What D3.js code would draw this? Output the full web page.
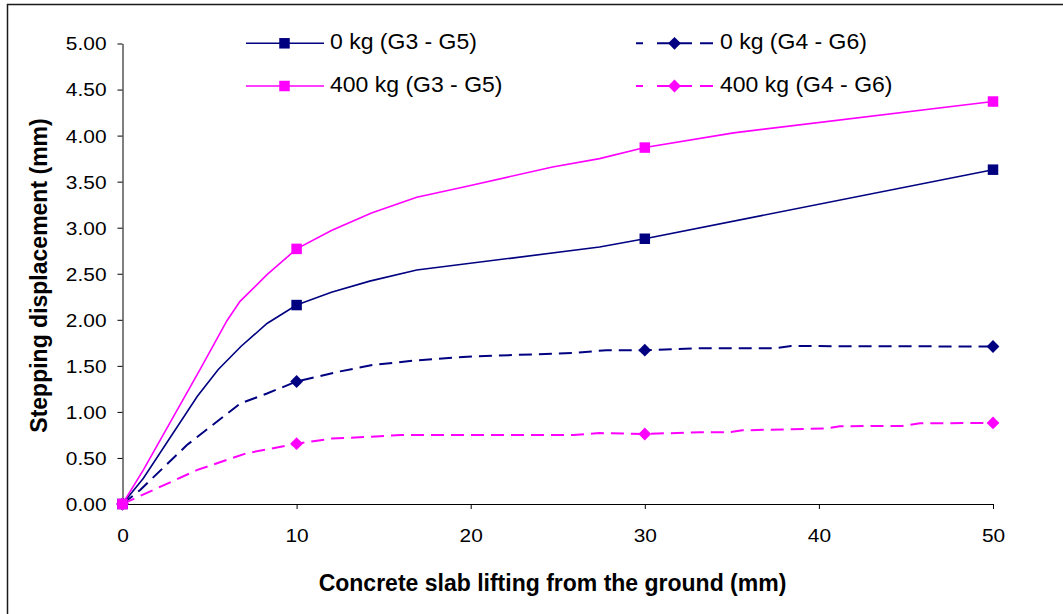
<!DOCTYPE html>
<html>
<head>
<meta charset="utf-8">
<script src="https://cdn.jsdelivr.net/npm/d3@7"></script>
<style>
  body { margin: 0; background: #fff; }
  text { font-family: "Liberation Sans", Arial, sans-serif; fill: #000; }
</style>
</head>
<body>
<script>
// series values: [lifting (mm), stepping displacement (mm)]
const load0_G3G5 = [[0,0],[1.2,0.28],[4.3,1.17],[5.5,1.46],[6.8,1.71],[8.3,1.96],[10,2.16],[12,2.30],[14.2,2.42],[16.9,2.54],[27.4,2.79],[30,2.88],[50,3.63]];
const load0_G4G6 = [[0,0],[1.0,0.15],[3.7,0.64],[6.75,1.09],[8.3,1.20],[10,1.33],[12.5,1.44],[14.4,1.51],[16.9,1.56],[19.8,1.60],[25.9,1.64],[27.8,1.67],[30,1.67],[33,1.69],[37.4,1.69],[38.4,1.715],[50,1.71]];
const load400_G3G5 = [[0,0],[1.2,0.37],[4.45,1.46],[6.0,1.99],[6.75,2.20],[8.3,2.49],[10,2.77],[12,2.97],[14.3,3.16],[16.9,3.33],[19.8,3.45],[24.7,3.66],[27.4,3.75],[30,3.87],[35.1,4.03],[50,4.37]];
const load400_G4G6 = [[0,0],[4.3,0.37],[7.1,0.55],[10,0.655],[12,0.71],[14.3,0.73],[16,0.75],[25.9,0.75],[27.4,0.77],[30,0.76],[33.2,0.78],[34.9,0.78],[35.6,0.80],[40.4,0.82],[41.2,0.845],[44.8,0.847],[45.8,0.876],[50,0.88]];

const seriesNames = ["0 kg (G3 - G5)", "0 kg (G4 - G6)", "400 kg (G3 - G5)", "400 kg (G4 - G6)"];
const seriesValues = [load0_G3G5, load0_G4G6, load400_G3G5, load400_G4G6];
const markerAt = [0, 10, 30, 50];   // points that carry a marker
const xTicks = [0, 10, 20, 30, 40, 50];
const yTicks = [0, 0.5, 1, 1.5, 2, 2.5, 3, 3.5, 4, 4.5, 5];

// styles per series
const colors = ["#000080", "#000080", "#ff00ff", "#ff00ff"];
const dashes = [null, "13,7", null, "13,7"];
const widths = [1.6, 2, 1.6, 2];
const shapes = ["square", "diamond", "square", "diamond"];

const W = 1063, H = 614;
const svg = d3.select("body").append("svg").attr("width", W).attr("height", H);

// chart border
svg.append("rect")
    .attr("x", 7.5).attr("y", 4.5)
    .attr("width", 1200).attr("height", 800)
    .attr("fill", "#fff").attr("stroke", "#1a1a1a").attr("stroke-width", 1.5);

const x = d3.scaleLinear().domain([0, 50]).range([122.5, 993]);
const y = d3.scaleLinear().domain([0, 5]).range([504, 43.5]);

// axes
const yAxis = svg.append("g")
    .attr("transform", "translate(122.5,0)")
    .call(d3.axisLeft(y).tickValues(yTicks).tickFormat(d3.format(".2f")).tickSize(5).tickSizeOuter(0));
yAxis.selectAll("text")
    .attr("x", 0).attr("dy", null).attr("y", 6.4)
    .attr("transform", "translate(-16,0) scale(1.16,1)")
    .style("font-size", "18px");

const xAxis = svg.append("g")
    .attr("transform", "translate(0,504)")
    .call(d3.axisBottom(x).tickValues(xTicks).tickSize(5).tickSizeOuter(0));
xAxis.selectAll("text")
    .attr("y", 0).attr("dy", null)
    .attr("transform", "translate(0,37.7) scale(1.16,1)")
    .style("font-size", "18px");

svg.selectAll(".domain, .tick line").attr("stroke", "#000").attr("stroke-width", 1);
svg.selectAll(".tick text").attr("font-family", null).style("fill", "#000");

// axis titles
svg.append("text")
    .attr("x", 552.5).attr("y", 590.7)
    .attr("text-anchor", "middle")
    .style("font-size", "23px").style("font-weight", "bold")
    .text("Concrete slab lifting from the ground (mm)");

svg.append("text")
    .attr("transform", "translate(47,275.5) rotate(-90)")
    .attr("text-anchor", "middle")
    .style("font-size", "23px").style("font-weight", "bold")
    .text("Stepping displacement (mm)");

// marker drawing
function marker(sel, shape, color) {
    if (shape === "square") {
        sel.append("rect")
            .attr("x", -5.25).attr("y", -5.25).attr("width", 10.5).attr("height", 10.5)
            .attr("fill", color);
    } else {
        sel.append("path")
            .attr("d", "M0,-6.4L6.4,0L0,6.4L-6.4,0Z")
            .attr("fill", color);
    }
}

const line = d3.line().x(d => x(d[0])).y(d => y(d[1]));

seriesValues.forEach((vals, i) => {
    svg.append("path")
        .datum(vals)
        .attr("d", line)
        .attr("fill", "none")
        .attr("stroke", colors[i])
        .attr("stroke-width", widths[i])
        .attr("stroke-dasharray", dashes[i]);
});

seriesValues.forEach((vals, i) => {
    svg.selectAll(null)
        .data(vals.filter(d => markerAt.includes(d[0])))
        .enter().append("g")
        .attr("transform", d => "translate(" + x(d[0]) + "," + y(d[1]) + ")")
        .each(function () { marker(d3.select(this), shapes[i], colors[i]); });
});

// legend, two columns filled row by row
const legCols = [246, 636], legRows = [43.3, 86];
seriesNames.forEach((name, i) => {
    const lx = legCols[i % 2], ly = legRows[Math.floor(i / 2)];
    const g = svg.append("g").attr("transform", "translate(" + lx + "," + ly + ")");
    g.append("line")
        .attr("x1", 0).attr("x2", 78).attr("y1", 0).attr("y2", 0)
        .attr("stroke", colors[i]).attr("stroke-width", widths[i])
        .attr("stroke-dasharray", dashes[i] ? "7,14,35,8,13" : null);
    const m = g.append("g").attr("transform", "translate(38.5,0)");
    marker(m, shapes[i], colors[i]);
    g.append("text")
        .attr("transform", "translate(84,5.7) scale(1.045,1)")
        .style("font-size", "22px")
        .text(name);
});
</script>
</body>
</html>
